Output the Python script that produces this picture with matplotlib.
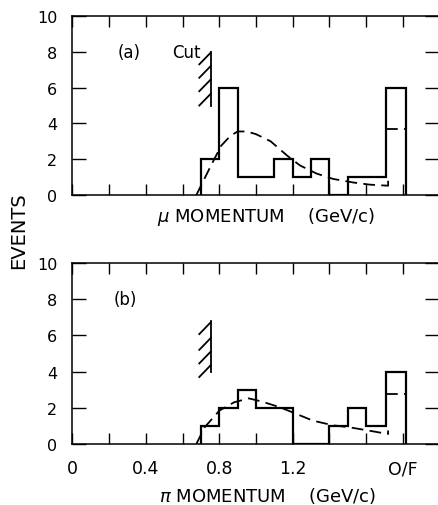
import matplotlib
matplotlib.use('Agg')
import matplotlib.pyplot as plt

# bin edges (GeV/c), last bin is the overflow (O/F)
edges = [0.70, 0.80, 0.90, 1.00, 1.10, 1.20, 1.30, 1.40, 1.50, 1.60, 1.71, 1.82]

# (a) mu momentum
mu_counts = [2, 6, 1, 1, 2, 1, 2, 0, 1, 1, 6]
mu_fit_x = [0.675, 0.75, 0.81, 0.86, 0.90, 0.95, 1.00, 1.08, 1.17, 1.24, 1.33, 1.42, 1.53, 1.62, 1.72, 1.72]
mu_fit_y = [0.0, 1.55, 2.75, 3.3, 3.55, 3.55, 3.4, 3.0, 2.2, 1.65, 1.2, 0.9, 0.7, 0.58, 0.52, 0.8]
mu_of_fit = 3.7

# (b) pi momentum
pi_counts = [1, 2, 3, 2, 2, 0, 0, 1, 2, 1, 4]
pi_fit_x = [0.675, 0.72, 0.80, 0.88, 0.96, 1.03, 1.13, 1.22, 1.31, 1.42, 1.51, 1.62, 1.72, 1.72]
pi_fit_y = [0.0, 0.92, 1.84, 2.3, 2.52, 2.35, 2.03, 1.66, 1.29, 1.03, 0.92, 0.73, 0.55, 0.75]
pi_of_fit = 2.75

cut_x = 0.753
xtick_pos = [0.0, 0.2, 0.4, 0.6, 0.8, 1.0, 1.2, 1.4, 1.6, 1.8]
xtick_lbl = ['0', '', '0.4', '', '0.8', '', '1.2', '', '', 'O/F']
ytick_pos = [0, 2, 4, 6, 8, 10]

plt.rcParams['font.family'] = 'DejaVu Sans'

fig = plt.figure(figsize=(4.38, 5.06), dpi=100)
ax_a = fig.add_axes([0.1655, 0.6126, 0.8379, 0.3538])
ax_b = fig.add_axes([0.1655, 0.1206, 0.8379, 0.3577])

DASH = (0, (6.5, 3.5))


def style(ax, labels):
    ax.set_xlim(0, 2.0)
    ax.set_ylim(0, 10)
    for s in ax.spines.values():
        s.set_linewidth(1.1)
    ax.set_xticks(xtick_pos)
    ax.set_yticks(ytick_pos)
    ax.set_yticklabels([str(v) for v in ytick_pos], fontsize=11.5)
    if labels:
        ax.set_xticklabels(xtick_lbl, fontsize=12.5)
    else:
        ax.set_xticklabels([])
    ax.tick_params(axis='x', direction='in', top=True, length=8, width=1.0, pad=11)
    ax.tick_params(axis='y', direction='in', right=True, length=10, width=1.0, pad=11)


def cut(ax, y_top, y_bot, starts):
    ax.plot([cut_x, cut_x], [y_top, y_bot], color='black', lw=1.3)
    for y in starts:
        ax.plot([cut_x, cut_x - 0.062], [y, y - 0.65], color='black', lw=1.3)


for ax, counts, fx, fy, of in [(ax_a, mu_counts, mu_fit_x, mu_fit_y, mu_of_fit),
                               (ax_b, pi_counts, pi_fit_x, pi_fit_y, pi_of_fit)]:
    ax.stairs(counts, edges, baseline=0, color='black', lw=1.6)
    ax.plot(fx, fy, color='black', lw=1.3, ls=DASH)
    ax.plot([edges[-2], edges[-1]], [of, of], color='black', lw=1.3, ls=DASH)

style(ax_a, False)
style(ax_b, True)

cut(ax_a, 8.0, 5.0, [7.95, 7.2, 6.45, 5.65])
cut(ax_b, 6.8, 4.0, [6.72, 5.85, 5.1, 4.35])

ax_a.text(0.31, 8.0, '(a)', fontsize=12, ha='center', va='center')
ax_a.text(0.545, 8.0, 'Cut', fontsize=12, ha='left', va='center')
ax_b.text(0.29, 8.0, '(b)', fontsize=12, ha='center', va='center')

fig.text(0.608, 0.571, r'$\mu$ MOMENTUM    (GeV/c)', fontsize=13, ha='center', va='center')
fig.text(0.61, 0.0198, r'$\pi$ MOMENTUM    (GeV/c)', fontsize=13, ha='center', va='center')
fig.text(0.043, 0.545, 'EVENTS', fontsize=14, rotation=90, ha='center', va='center')

fig.savefig('out.png', dpi=100)
